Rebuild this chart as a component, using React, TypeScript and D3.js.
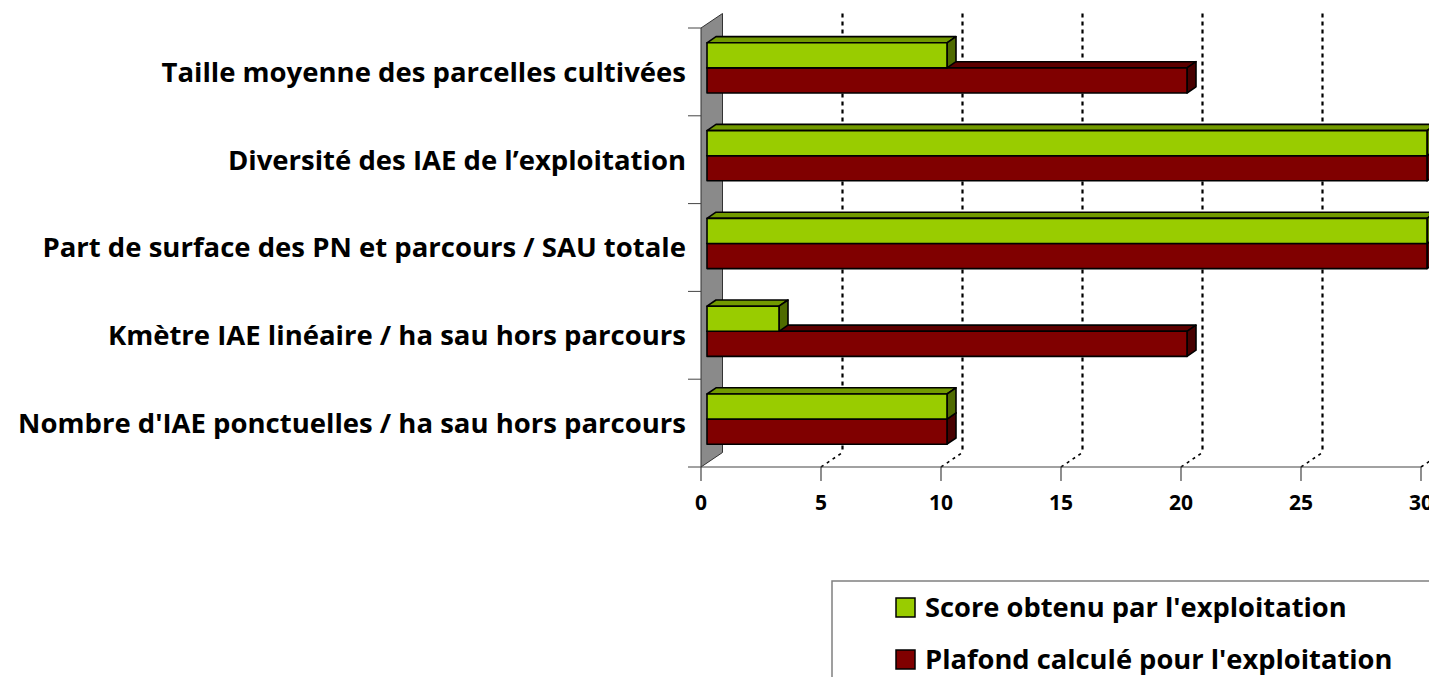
import React, { useEffect, useRef } from 'react';
import * as d3 from 'd3';

const categories = [
  'Taille moyenne des parcelles cultivées',
  'Diversité des IAE de l’exploitation',
  'Part de surface des PN et parcours / SAU totale',
  'Kmètre IAE linéaire / ha sau hors parcours',
  "Nombre d'IAE ponctuelles / ha sau hors parcours",
];
const scoreValues = [10, 30, 30, 3, 10];
const plafondValues = [20, 30, 30, 20, 10];
const seriesNames = ["Score obtenu par l'exploitation", "Plafond calculé pour l'exploitation"];
const xTicks = [0, 5, 10, 15, 20, 25, 30];

const W = 1429;
const H = 677;

const BarChart3D = () => {
  const ref = useRef<SVGSVGElement | null>(null);

  useEffect(() => {
    const svg = d3.select(ref.current);
    svg.selectAll('*').remove();

    const font = "'Open Sans', sans-serif";
    const x = d3.scaleLinear().domain([0, 30]).range([701, 1421]);
    const y = d3.scaleBand().domain(categories).range([28, 467]);
    const sub = d3.scaleBand().domain(['score', 'plafond']).range([0, y.bandwidth()]).paddingOuter(0.75);

    // depth of the floor / wall, and where bars sit inside it
    const depth = { dx: 21.5, dy: -14.5 };
    const barOff = { dx: 6, dy: -4 };
    const barDepth = { dx: 9, dy: -6.2 };

    const poly = d3.line().curve(d3.curveLinearClosed);

    // back gridlines (dotted) + floor diagonals
    const grid = svg.append('g');
    xTicks.filter((t) => t > 0).forEach((t) => {
      const bx = x(t) + depth.dx;
      grid.append('line')
        .attr('x1', bx).attr('x2', bx)
        .attr('y1', 28 + depth.dy).attr('y2', 467 + depth.dy)
        .attr('stroke', '#000').attr('stroke-width', 2.2).attr('stroke-dasharray', '4,4');
      grid.append('line')
        .attr('x1', x(t)).attr('y1', 467)
        .attr('x2', bx).attr('y2', 467 + depth.dy)
        .attr('stroke', '#000').attr('stroke-width', 1.6).attr('stroke-dasharray', '3,4');
    });

    // side wall
    svg.append('path')
      .attr('d', poly([
        [x(0), 28], [x(0) + depth.dx, 28 + depth.dy],
        [x(0) + depth.dx, 467 + depth.dy], [x(0), 467],
      ]))
      .attr('fill', '#8a8a8a').attr('stroke', '#333').attr('stroke-width', 1);

    const series = [
      { key: 'plafond', values: plafondValues, front: '#800000', top: '#5c0000', side: '#480000' },
      { key: 'score', values: scoreValues, front: '#99cc00', top: '#729a00', side: '#4f6b00' },
    ];

    const bars = svg.append('g');
    categories.forEach((c, i) => {
      series.forEach((s) => {
        const x0 = x(0) + barOff.dx;
        const x1 = x(s.values[i]) + barOff.dx;
        const y0 = (y(c) as number) + (sub(s.key) as number) + barOff.dy;
        const y1 = y0 + sub.bandwidth();
        const g = bars.append('g').attr('stroke', '#000').attr('stroke-width', 1.6).attr('stroke-linejoin', 'round');
        g.append('path')
          .attr('d', poly([[x0, y0], [x1, y0], [x1 + barDepth.dx, y0 + barDepth.dy], [x0 + barDepth.dx, y0 + barDepth.dy]]))
          .attr('fill', s.top);
        g.append('path')
          .attr('d', poly([[x1, y0], [x1 + barDepth.dx, y0 + barDepth.dy], [x1 + barDepth.dx, y1 + barDepth.dy], [x1, y1]]))
          .attr('fill', s.side);
        g.append('rect')
          .attr('x', x0).attr('y', y0).attr('width', x1 - x0).attr('height', y1 - y0)
          .attr('fill', s.front);
      });
    });

    // category axis ticks + labels
    const cat = svg.append('g');
    [...categories.map((c) => y(c) as number), 467].forEach((ty) => {
      cat.append('line').attr('x1', 688).attr('x2', x(0)).attr('y1', ty).attr('y2', ty)
        .attr('stroke', '#444').attr('stroke-width', 1);
    });
    categories.forEach((c) => {
      cat.append('text')
        .attr('x', 686)
        .attr('y', (y(c) as number) + y.bandwidth() / 2)
        .attr('dy', '0.36em')
        .attr('text-anchor', 'end')
        .attr('font-family', font).attr('font-weight', 700).attr('font-size', 27.5)
        .text(c);
    });

    // value axis
    const axis = svg.append('g');
    axis.append('line').attr('x1', x(0)).attr('x2', x(30)).attr('y1', 467).attr('y2', 467)
      .attr('stroke', '#444').attr('stroke-width', 1.2);
    xTicks.forEach((t) => {
      axis.append('line').attr('x1', x(t)).attr('x2', x(t)).attr('y1', 467).attr('y2', 481)
        .attr('stroke', '#444').attr('stroke-width', 1.2);
      axis.append('text')
        .attr('x', x(t)).attr('y', 502).attr('dy', '0.36em')
        .attr('text-anchor', 'middle')
        .attr('font-family', font).attr('font-weight', 700).attr('font-size', 21)
        .text(t);
    });

    // legend
    const legend = svg.append('g');
    legend.append('rect').attr('x', 832).attr('y', 581).attr('width', 700).attr('height', 200)
      .attr('fill', '#fff').attr('stroke', '#808080').attr('stroke-width', 1.5);
    [series[1], series[0]].forEach((s, i) => {
      const ly = 607 + i * 52;
      legend.append('rect').attr('x', 896).attr('y', ly - 9).attr('width', 19).attr('height', 19)
        .attr('fill', s.front).attr('stroke', '#000').attr('stroke-width', 1.5);
      legend.append('text')
        .attr('x', 925).attr('y', ly).attr('dy', '0.36em')
        .attr('font-family', font).attr('font-weight', 700).attr('font-size', 27.3)
        .text(seriesNames[i]);
    });
  }, []);

  return (
    <svg ref={ref} width={W} height={H} style={{ position: 'absolute', left: 0, top: 0, background: '#fff' }} />
  );
};

export default function App() {
  return <BarChart3D />;
}
